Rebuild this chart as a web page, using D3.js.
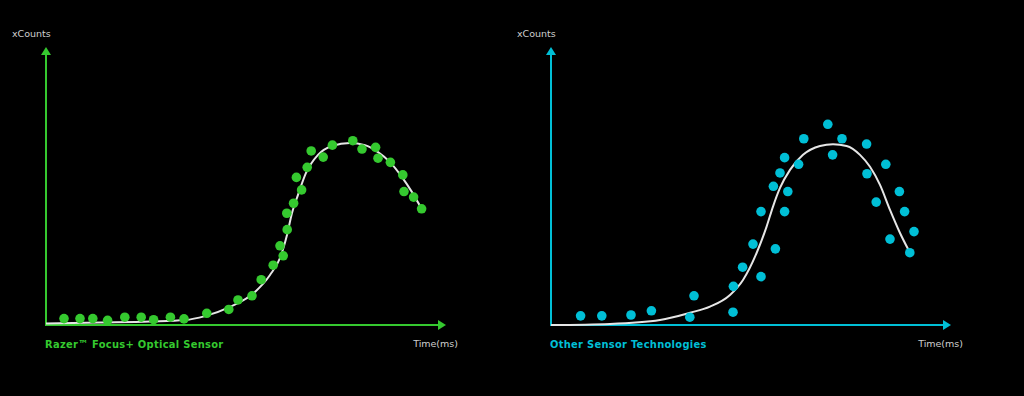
<!DOCTYPE html>
<html>
<head>
<meta charset="utf-8">
<script src="https://cdn.jsdelivr.net/npm/d3@7"></script>
<style>
  html, body { margin: 0; padding: 0; background: #000; }
  svg { display: block; }
</style>
</head>
<body>
<div id="chart"></div>
<script>
// time (0-100) and counts (0-100)
let razerDots = [
    [4.5, 2.3], [8.5, 2.3], [11.7, 2.3], [15.4, 1.7], [19.7, 2.8], [23.8, 2.8], [26.9, 1.9],
    [31.1, 2.8], [34.5, 2.2], [40.2, 4.2], [45.7, 5.6], [48, 9.0], [51.5, 10.5], [53.8, 16.3],
    [56.8, 21.5], [59.3, 24.9], [58.5, 28.5], [60.3, 34.3], [60.2, 40.2], [61.9, 43.8],
    [63.9, 48.6], [62.6, 53.1], [65.3, 56.7], [66.3, 62.6], [69.3, 60.4], [71.6, 64.7],
    [76.7, 66.3], [79, 63.3], [82.4, 63.9], [83, 60.0], [86.1, 58.5], [89.2, 54.0],
    [89.5, 48.0], [91.9, 46.0], [93.9, 41.8]
];
let razerCurve = [
    [0, 0.5], [13.5, 0.9], [26, 1.3], [34.75, 1.8], [39.75, 3.2], [46, 6.5], [52.25, 11.9],
    [56, 18], [58.5, 24.1], [60.25, 32.4], [61.5, 40.3], [63, 46.8], [65, 54.7], [68, 61.2],
    [71.5, 64.4], [76, 65.5], [79.75, 64.7], [83, 62.2], [86, 58.6], [89, 53.2], [91.5, 47.8],
    [93.9, 41.8]
];
let otherDots = [
    [7.4, 3.3], [12.7, 3.3], [20, 3.6], [25.1, 5.1], [34.7, 2.8], [35.75, 10.5], [45.5, 4.6],
    [45.6, 13.9], [47.9, 20.8], [50.5, 29.1], [52.5, 17.4], [52.5, 40.8], [55.6, 49.9],
    [56.1, 27.4], [57.25, 54.7], [58.4, 60.2], [59.2, 48.0], [58.4, 40.8], [61.9, 57.8],
    [63.2, 67.0], [69.2, 72.2], [70.4, 61.2], [72.75, 67.0], [78.9, 65.1], [79, 54.4],
    [83.7, 57.8], [81.3, 44.2], [87.1, 48.0], [88.4, 40.8], [84.75, 30.9], [90.75, 33.6],
    [89.7, 26.0]
];
let otherCurve = [
    [0, 0], [14.75, 0.4], [27.25, 1.8], [34.75, 4.4], [39.75, 6.6], [44.75, 10.8], [48, 16.2],
    [51.4, 25.9], [53.9, 35.4], [55.5, 42.6], [57.25, 49.3], [59.75, 55.8], [63, 61.2],
    [67.25, 64.4], [70.5, 65.0], [73.9, 64.4], [77.25, 61.2], [79.75, 56.9], [82.25, 50.4],
    [84.75, 41.4], [87.25, 33.1], [89.3, 27.2]
];
let panelTitles = ['Razer\u2122 Focus+ Optical Sensor', 'Other Sensor Technologies'];
let axisLabels = {y: 'xCounts', x: 'Time(ms)'};

let width = 1024, height = 396;
let $svg = d3.select('#chart').append('svg')
    .attr('width', width)
    .attr('height', height);
$svg.append('rect').attr('width', width).attr('height', height).attr('fill', '#000');

let panels = [
    {left: 46, title: panelTitles[0], color: '#35c92f', dots: razerDots, curve: razerCurve},
    {left: 551, title: panelTitles[1], color: '#00bfd6', dots: otherDots, curve: otherCurve}
];

let plotTop = 47, plotBottom = 325, plotW = 400;

panels.forEach((p) => {
    let x = d3.scaleLinear().domain([0, 100]).range([p.left, p.left + plotW]);
    let y = d3.scaleLinear().domain([0, 100]).range([plotBottom, plotTop]);
    let $g = $svg.append('g');

    // axes with arrow heads
    $g.append('line')
        .attr('x1', x(0)).attr('y1', y(0) + 1)
        .attr('x2', x(0)).attr('y2', y(100) + 6)
        .attr('stroke', p.color).attr('stroke-width', 2);
    $g.append('path')
        .attr('d', `M${x(0) - 5},${y(100) + 8}L${x(0)},${y(100)}L${x(0) + 5},${y(100) + 8}Z`)
        .attr('fill', p.color);
    $g.append('line')
        .attr('x1', x(0) - 1).attr('y1', y(0))
        .attr('x2', x(100) - 6).attr('y2', y(0))
        .attr('stroke', p.color).attr('stroke-width', 2);
    $g.append('path')
        .attr('d', `M${x(100) - 8},${y(0) - 5}L${x(100)},${y(0)}L${x(100) - 8},${y(0) + 5}Z`)
        .attr('fill', p.color);

    // labels
    $g.append('text')
        .attr('x', x(0) - 34).attr('y', 37)
        .attr('fill', '#cfcfcf')
        .attr('font-family', 'DejaVu Sans, sans-serif')
        .attr('font-size', 9.5)
        .text(axisLabels.y);
    $g.append('text')
        .attr('x', x(100) + 12).attr('y', 347)
        .attr('text-anchor', 'end')
        .attr('fill', '#cfcfcf')
        .attr('font-family', 'DejaVu Sans, sans-serif')
        .attr('font-size', 9.5)
        .text(axisLabels.x);
    $g.append('text')
        .attr('x', x(0) - 1).attr('y', 348)
        .attr('fill', p.color)
        .attr('font-family', 'DejaVu Sans Condensed, DejaVu Sans, sans-serif')
        .attr('font-weight', 'bold')
        .attr('font-size', 11)
        .attr('letter-spacing', 0.3)
        .text(p.title);

    // fitted curve
    let line = d3.line()
        .x(d => x(d[0]))
        .y(d => y(d[1]))
        .curve(d3.curveMonotoneX);
    $g.append('path')
        .datum(p.curve)
        .attr('d', line)
        .attr('fill', 'none')
        .attr('stroke', '#e6e6e6')
        .attr('stroke-width', 2);

    // samples
    $g.selectAll('circle.dot')
        .data(p.dots)
        .enter().append('circle')
        .attr('class', 'dot')
        .attr('cx', d => x(d[0]))
        .attr('cy', d => y(d[1]))
        .attr('r', 4.8)
        .attr('fill', p.color);
});
</script>
</body>
</html>
